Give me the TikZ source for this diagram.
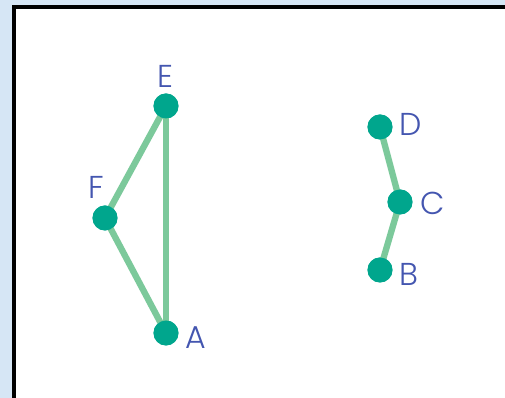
\documentclass[tikz,border=0pt]{standalone}
\usepackage{fontspec}
\setmainfont{Poppins Light}
\definecolor{bgblue}{HTML}{D6E6F5}
\definecolor{vtxteal}{HTML}{00A68D}
\definecolor{edgegreen}{HTML}{7CC99B}
\definecolor{lblblue}{HTML}{4456B0}
\begin{document}
\begin{tikzpicture}[
    x=0.02cm, y=-0.02cm,
    vertex/.style={circle, fill=vtxteal, inner sep=0pt, minimum size=0.5cm},
    edge/.style={draw=edgegreen, line width=3.6pt},
    lbl/.style={text=lblblue, font=\fontsize{18}{20}\selectfont, inner sep=0pt}
]
    % 背景
    \fill[bgblue] (0,0) rectangle (505,398);
    \useasboundingbox (0,0) rectangle (505,398);
    \begin{scope}
        \clip (0,0) rectangle (505,398);
        \draw[fill=white, line width=2pt] (14,7) rectangle (530,420);
    \end{scope}

    % 顶点
    \node[vertex] (e) at (166,106) {};
    \node[vertex] (f) at (105,218) {};
    \node[vertex] (a) at (166,333) {};
    \node[vertex] (d) at (380,127) {};
    \node[vertex] (c) at (400,202) {};
    \node[vertex] (b) at (380,270) {};

    % 标签
    \node[lbl] (le) at (165,76) {E};
    \node[lbl] (lf) at (96,187) {F};
    \node[lbl] (la) at (196,338) {A};
    \node[lbl] (ld) at (411,124) {D};
    \node[lbl] (lc) at (433,203) {C};
    \node[lbl] (lb) at (409,274) {B};

    % 边
    \draw[edge] (e.center) -- (f.center);
    \draw[edge] (f.center) -- (a.center);
    \draw[edge] (e.center) -- (a.center);
    \draw[edge] (d.center) -- (c.center);
    \draw[edge] (c.center) -- (b.center);

    % 顶点重画在边上
    \foreach \v in {e,f,a,d,c,b}
        \fill[vtxteal] (\v) circle (12.5);
\end{tikzpicture}
\end{document}
